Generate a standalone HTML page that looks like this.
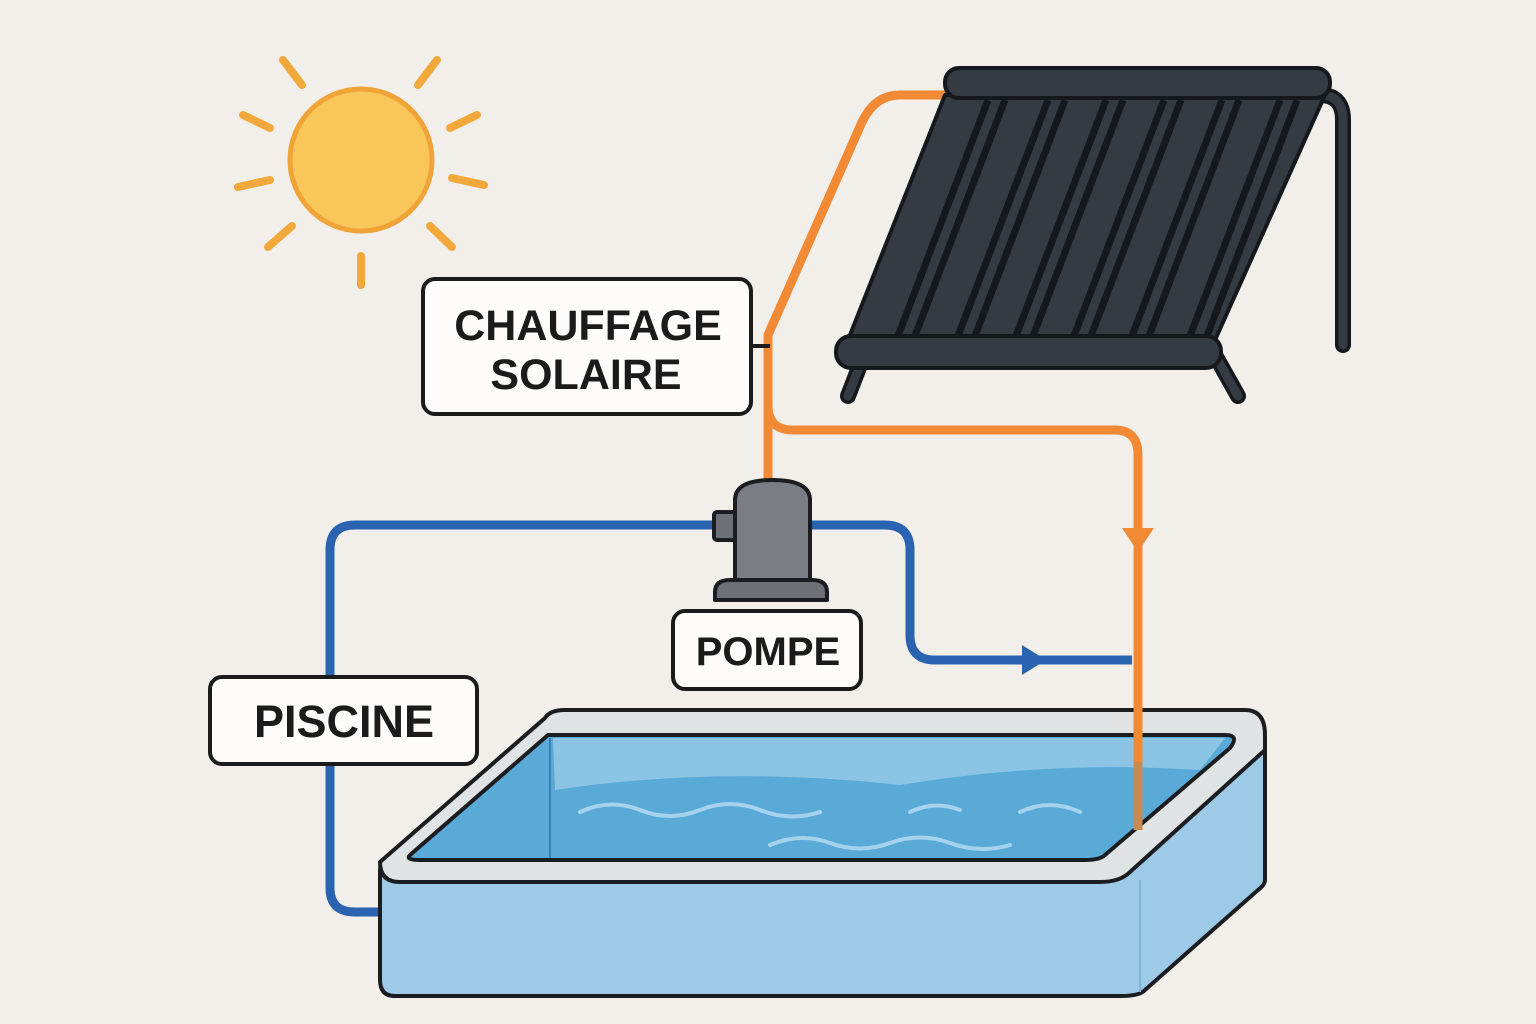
<!DOCTYPE html>
<html><head><meta charset="utf-8"><style>
html,body{margin:0;padding:0;background:#f2efeb;}
svg{display:block}
text{font-family:"Liberation Sans",sans-serif;font-weight:bold;fill:#1b1b1b}
</style></head><body>
<svg width="1536" height="1024" viewBox="0 0 1536 1024" xmlns="http://www.w3.org/2000/svg">
<rect width="1536" height="1024" fill="#f2efeb"/>
<!-- sun -->
<g stroke="#f2a83a" stroke-width="8" stroke-linecap="round">
<line x1="283" y1="60" x2="302" y2="85"/><line x1="437" y1="60" x2="418" y2="85"/>
<line x1="243" y1="115" x2="270" y2="128"/><line x1="477" y1="115" x2="450" y2="128"/>
<line x1="238" y1="187" x2="270" y2="180"/><line x1="484" y1="185" x2="452" y2="178"/>
<line x1="268" y1="247" x2="292" y2="226"/><line x1="452" y1="247" x2="430" y2="226"/>
<line x1="361" y1="256" x2="361" y2="285"/>
</g>
<circle cx="361" cy="160" r="71" fill="#f9c65a" stroke="#f0a336" stroke-width="5"/>
<!-- orange pipe -->
<g fill="none" stroke="#f28a35" stroke-width="9" stroke-linejoin="round">
<path d="M948 95 H900 Q875 95 862 122 L768 335 V405 Q768 430 793 430 H1115 Q1138 430 1138 455 V830"/>
<path d="M768 400 V482"/>
</g>
<path d="M1122 528 L1154 528 L1138 552 Z" fill="#f28a35"/>
<!-- panel -->
<g stroke="#15191d" stroke-width="4" stroke-linejoin="round">
<path d="M1320 95 Q1343 95 1343 120 V345" fill="none" stroke="#15191d" stroke-width="16" stroke-linecap="round"/>
<path d="M1320 95 Q1343 95 1343 120 V345" fill="none" stroke="#353b42" stroke-width="9" stroke-linecap="round"/>
<path d="M860 365 L848 396 M1215 355 L1238 396" stroke="#15191d" stroke-width="16" stroke-linecap="round"/>
<path d="M860 365 L848 396 M1215 355 L1238 396" stroke="#353b42" stroke-width="9" stroke-linecap="round"/>
<polygon points="945,95 1325,95 1215,340 848,340" fill="#353b42"/>
<g stroke-width="7">
<line x1="988" y1="100" x2="898" y2="336"/><line x1="1005" y1="100" x2="915" y2="336"/>
<line x1="1048" y1="100" x2="958" y2="336"/><line x1="1065" y1="100" x2="975" y2="336"/>
<line x1="1106" y1="100" x2="1016" y2="336"/><line x1="1123" y1="100" x2="1033" y2="336"/>
<line x1="1164" y1="100" x2="1074" y2="336"/><line x1="1181" y1="100" x2="1091" y2="336"/>
<line x1="1222" y1="100" x2="1132" y2="336"/><line x1="1239" y1="100" x2="1149" y2="336"/>
<line x1="1280" y1="100" x2="1190" y2="336"/><line x1="1297" y1="100" x2="1207" y2="336"/>
</g>
<rect x="945" y="68" width="385" height="30" rx="14" fill="#353b42"/>
<rect x="836" y="336" width="385" height="32" rx="15" fill="#353b42"/>
</g>
<!-- blue pipe -->
<g fill="none" stroke="#2a63b0" stroke-width="9" stroke-linejoin="round">
<path d="M385 912 H355 Q330 912 330 888 V550 Q330 525 355 525 H885 Q910 525 910 550 V635 Q910 660 935 660 H1132"/>
</g>
<path d="M1022 645 L1046 660 L1022 675 Z" fill="#2a63b0"/>
<!-- pump -->
<g stroke="#1b1d20" stroke-width="4" stroke-linejoin="round">
<rect x="714" y="512" width="24" height="28" rx="3" fill="#6d7077"/>
<path d="M735 580 V500 Q735 480 772 480 Q810 480 810 500 V580 Z" fill="#7a7d84"/>
<path d="M715 600 V592 Q715 580 730 580 H812 Q827 580 827 592 V600 Z" fill="#6d7077"/>
</g>
<!-- pool -->
<g stroke="#1b1d20" stroke-width="4" stroke-linejoin="round">
<path d="M380 870 Q380 860 395 858 L1120 872 L1265 745 V880 Q1265 885 1258 890 L1145 990 Q1140 996 1120 996 H395 Q380 996 380 980 Z" fill="#9ccae7"/>
<path d="M380 862 L545 718 Q550 710 565 710 H1245 Q1265 710 1265 735 V750 L1130 872 Q1120 882 1100 882 H400 Q380 882 380 862 Z" fill="#dfe3e3"/>
<path d="M410 855 L548 735 H1225 Q1240 735 1230 748 L1105 855 Q1100 860 1085 860 H420 Q405 860 410 855 Z" fill="#5aaad8"/>
</g>
<path d="M553 738 H1225 L1200 770 Q1050 760 900 785 Q720 765 555 790 Z" fill="#8cc4e6"/>
<line x1="1140" y1="880" x2="1140" y2="992" stroke="#7fb4d6" stroke-width="2"/>
<line x1="550" y1="738" x2="550" y2="858" stroke="#3c7fb0" stroke-width="2"/>
<g fill="none" stroke="#a5d3ee" stroke-width="4" stroke-linecap="round">
<path d="M580 812 Q610 798 640 810 T700 810 T760 810 T820 812"/>
<path d="M770 845 Q800 832 830 843 T890 843 T950 843 T1010 845"/>
<path d="M910 812 Q935 800 960 810"/><path d="M1020 812 Q1050 798 1080 812"/>
</g>
<line x1="1138" y1="700" x2="1138" y2="762" stroke="#f28a35" stroke-width="9"/>
<line x1="1138" y1="762" x2="1138" y2="830" stroke="#c78a55" stroke-width="9"/>
<!-- labels -->
<g fill="#fdfcfa" stroke="#1b1b1b" stroke-width="4">
<rect x="423" y="279" width="328" height="135" rx="12"/>
<rect x="673" y="611" width="188" height="78" rx="12"/>
<rect x="210" y="677" width="267" height="87" rx="12"/>
</g>
<line x1="751" y1="346" x2="770" y2="346" stroke="#1b1b1b" stroke-width="4"/>
<text x="588" y="340" font-size="43" text-anchor="middle">CHAUFFAGE</text>
<text x="586" y="389" font-size="43" text-anchor="middle">SOLAIRE</text>
<text x="768" y="665" font-size="40" text-anchor="middle">POMPE</text>
<text x="344" y="737" font-size="45" text-anchor="middle">PISCINE</text>
</svg>
</body></html>
